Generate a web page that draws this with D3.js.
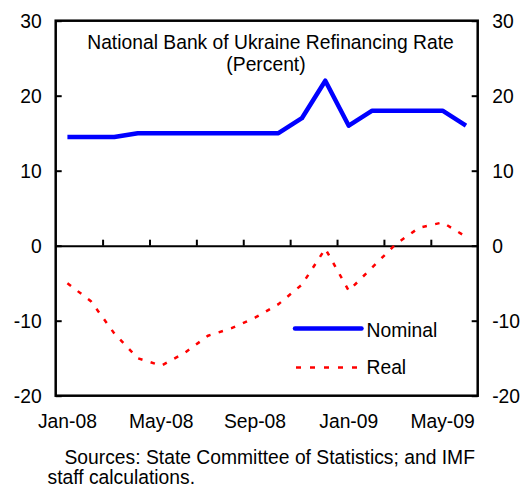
<!DOCTYPE html>
<html>
<head>
<meta charset="utf-8">
<script src="https://cdn.jsdelivr.net/npm/d3@7"></script>
<style>
	body {margin: 0; background: #fff;}
	svg text {font-family: "Liberation Sans", Arial, sans-serif; fill: #000;}
</style>
</head>
<body>
<div id="chart"></div>
<script>
//Data
var months = ["Jan-08","Feb-08","Mar-08","Apr-08","May-08","Jun-08","Jul-08","Aug-08","Sep-08",
	"Oct-08","Nov-08","Dec-08","Jan-09","Feb-09","Mar-09","Apr-09","May-09","Jun-09"];
var nominal = [14.5,14.5,14.5,15,15,15,15,15,15,15,17,22,16,18,18,18,18,16];
var real = [-5.0,-7.4,-11.7,-15.0,-16.0,-14.3,-12.0,-11.0,-9.6,-7.8,-5.2,-0.4,-6.0,-2.9,0.2,2.4,3.1,1.2];
var yTicks = [-20,-10,0,10,20,30];
var xLabels = ["Jan-08","May-08","Sep-08","Jan-09","May-09"];

//Sizing
var width = 522, height = 488;
var plot = {left: 55.7, right: 477.7, top: 20.7, bottom: 395.7};
var fontSize = '19.3px';

var svg = d3.select('#chart').append('svg')
	.attr('width',width)
	.attr('height',height);

//Scales
var x = d3.scaleBand().domain(months).range([plot.left,plot.right]).padding(0);
var xEdge = d3.scaleLinear().domain([0,months.length]).range([plot.left,plot.right]);
var y = d3.scaleLinear().domain([-20,30]).range([plot.bottom,plot.top]);
var cx = function(d,i){return x(months[i])+x.bandwidth()/2;};
//plain hyphen for negatives, as in the original
var plainFormat = function(d){return String(d);};

//Y axes (ticks pointing inward)
var leftAxis = svg.append('g')
	.attr('transform','translate('+plot.left+',0)')
	.call(d3.axisLeft(y).tickValues(yTicks).tickFormat(plainFormat).tickSize(-6).tickPadding(14).tickSizeOuter(0));
var rightAxis = svg.append('g')
	.attr('transform','translate('+plot.right+',0)')
	.call(d3.axisRight(y).tickValues(yTicks).tickFormat(plainFormat).tickSize(-6).tickPadding(14.5).tickSizeOuter(0));
[leftAxis,rightAxis].forEach(function(a) {
	a.select('.domain').remove();
	a.selectAll('line').attr('stroke','#000').attr('stroke-width',2);
	a.selectAll('text').style('font-size',fontSize).attr('dy','0.36em');
});

//Zero line with tick marks at every second month boundary
var zeroAxis = svg.append('g')
	.attr('transform','translate(0,'+y(0)+')')
	.call(d3.axisTop(xEdge).tickValues(d3.range(2,months.length,2)).tickSize(6).tickFormat('').tickSizeOuter(0));
zeroAxis.select('.domain').attr('stroke','#000').attr('stroke-width',2);
zeroAxis.selectAll('line').attr('stroke','#000').attr('stroke-width',2);

//X labels at the bottom
var bottomAxis = svg.append('g')
	.attr('transform','translate(0,'+plot.bottom+')')
	.call(d3.axisBottom(x).tickValues(xLabels).tickSize(0).tickPadding(19));
bottomAxis.select('.domain').remove();
bottomAxis.selectAll('text').style('font-size',fontSize);

//Frame
svg.append('rect')
	.attr('x',plot.left).attr('y',plot.top)
	.attr('width',plot.right-plot.left).attr('height',plot.bottom-plot.top)
	.attr('fill','none').attr('stroke','#000').attr('stroke-width',2.5);

//Lines
var line = d3.line().x(cx).y(function(d){return y(d);});
svg.append('path')
	.datum(real)
	.attr('d',line)
	.attr('fill','none')
	.attr('stroke','#ff0000')
	.attr('stroke-width',2.5)
	.attr('stroke-dasharray','4.5,8.5');
svg.append('path')
	.datum(nominal)
	.attr('d',line)
	.attr('fill','none')
	.attr('stroke','#0000ff')
	.attr('stroke-width',4.5)
	.attr('stroke-linejoin','round');

//Title
svg.append('text')
	.attr('x',270.5).attr('y',48.5)
	.attr('text-anchor','middle')
	.style('font-size',fontSize)
	.text('National Bank of Ukraine Refinancing Rate');
svg.append('text')
	.attr('x',266).attr('y',71)
	.attr('text-anchor','middle')
	.style('font-size',fontSize)
	.text('(Percent)');

//Legend
var legend = svg.append('g').attr('class','legend');
legend.append('line')
	.attr('x1',295).attr('x2',361.5).attr('y1',328.5).attr('y2',328.5)
	.attr('stroke','#0000ff').attr('stroke-width',4.5).attr('stroke-linecap','round');
legend.append('line')
	.attr('x1',296).attr('x2',362).attr('y1',367.5).attr('y2',367.5)
	.attr('stroke','#ff0000').attr('stroke-width',2.5).attr('stroke-dasharray','5,9');
legend.append('text').attr('x',366.5).attr('y',336.5).style('font-size',fontSize).text('Nominal');
legend.append('text').attr('x',366.5).attr('y',373.5).style('font-size',fontSize).text('Real');

//Sources note
svg.append('text')
	.attr('x',64.5).attr('y',463.5)
	.style('font-size',fontSize)
	.text('Sources: State Committee of Statistics; and IMF');
svg.append('text')
	.attr('x',47.5).attr('y',483.5)
	.style('font-size',fontSize)
	.text('staff calculations.');
</script>
</body>
</html>
